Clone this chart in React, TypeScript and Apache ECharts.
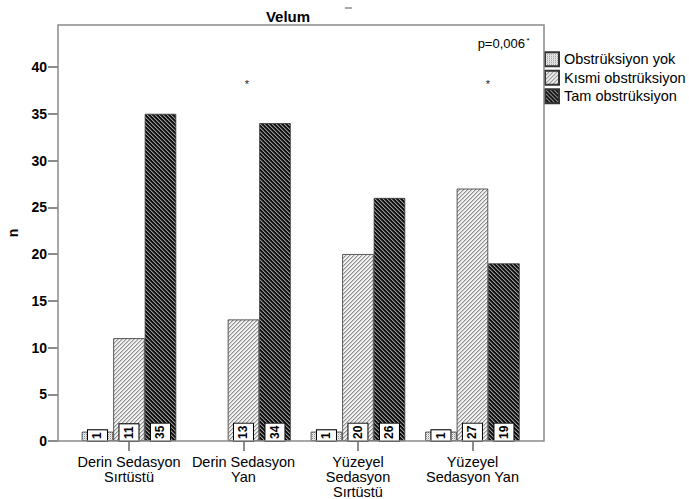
import React, { useEffect, useRef } from "react";
import * as echarts from "echarts";

const categories = [
  "Derin Sedasyon\nSırtüstü",
  "Derin Sedasyon\nYan",
  "Yüzeyel\nSedasyon\nSırtüstü",
  "Yüzeyel\nSedasyon Yan",
];
const seriesNames = ["Obstrüksiyon yok", "Kısmi obstrüksiyon", "Tam obstrüksiyon"];
const yokValues: (number | null)[] = [1, null, 1, 1];
const kismiValues: (number | null)[] = [11, 13, 20, 27];
const tamValues: (number | null)[] = [35, 34, 26, 19];
const yTicks = [0, 5, 10, 15, 20, 25, 30, 35, 40];
const xTicks = [0, 1, 2, 3];
const yMax = 44.5;

const FONT = 'Arial, "Liberation Sans", Helvetica, sans-serif';
const BAR_W = 31.5;

function makePattern(kind: "yok" | "kismi" | "tam") {
  const c = document.createElement("canvas");
  c.width = 4;
  c.height = 4;
  const ctx = c.getContext("2d")!;
  for (let y = 0; y < 4; y++) {
    for (let x = 0; x < 4; x++) {
      let col = "#fff";
      if (kind === "tam") {
        const d = (((x - y) % 4) + 4) % 4;
        col = d === 0 ? "#9a9a9a" : d === 1 ? "#484848" : "#101010";
      } else if (kind === "kismi") {
        const d = (x + y) % 4;
        col = d === 0 ? "#909090" : d === 1 ? "#c8c8c8" : "#f2f2f2";
      } else {
        const d = (x + y) % 2;
        col = d === 0 ? (x % 2 === 0 ? "#8a8a8a" : "#cfcfcf") : "#f4f4f4";
      }
      ctx.fillStyle = col;
      ctx.fillRect(x, y, 1, 1);
    }
  }
  return { image: c, repeat: "repeat", imageWidth: 4, imageHeight: 4 } as any;
}

export default function App() {
  const ref = useRef<HTMLDivElement>(null);
  useEffect(() => {
    if (!ref.current) return;
    const chart = echarts.init(ref.current, undefined, { renderer: "svg" });
    const allValues = [yokValues, kismiValues, tamValues];
    const labelData: any[] = [];
    allValues.forEach((arr, s) =>
      arr.forEach((v, i) => {
        if (v != null) labelData.push([i, v, s]);
      })
    );
    const mk = (name: string, data: (number | null)[], kind: "yok" | "kismi" | "tam") => ({
      type: "bar",
      name,
      data: data.map((v, i) => [i, v == null ? "-" : v]),
      barWidth: BAR_W,
      barGap: "0%",
      itemStyle: { color: makePattern(kind), borderColor: "#333", borderWidth: 0.8 },
    });
    chart.setOption({
      animation: false,
      textStyle: { fontFamily: FONT },
      grid: { left: 58, right: 145, top: 25, bottom: 58, containLabel: false, outerBoundsMode: "none" },
      legend: {
        orient: "vertical",
        left: 544,
        top: 50,
        padding: 0,
        itemGap: 0,
        itemWidth: 14,
        itemHeight: 14,
        icon: "rect",
        textStyle: { fontSize: 14.5, lineHeight: 18.5, color: "#000", fontFamily: FONT },
        data: seriesNames,
      },
      xAxis: {
        type: "value",
        min: -0.62,
        max: 3.625,
        splitLine: { show: false },
        axisLine: { show: false, onZero: false },
        axisTick: { show: true, length: 10, customValues: xTicks, lineStyle: { color: "#666", width: 1.5 } },
        axisLabel: {
          fontSize: 14.5,
          color: "#000",
          lineHeight: 15,
          margin: 13,
          customValues: xTicks,
          formatter: (v: number) => categories[Math.round(v)] ?? "",
        },
      },
      yAxis: {
        type: "value",
        min: 0,
        max: yMax,
        interval: 5,
        name: "n",
        nameLocation: "middle",
        nameRotate: 90,
        nameGap: 38,
        nameTextStyle: { fontSize: 14, fontWeight: "bold", color: "#000" },
        splitLine: { show: false },
        axisLine: { show: false, onZero: false },
        axisTick: { show: true, length: 10, customValues: yTicks, lineStyle: { color: "#666", width: 1.5 } },
        axisLabel: { fontSize: 14, fontWeight: "bold", color: "#000", margin: 11, customValues: yTicks },
      },
      graphic: [
        {
          type: "rect",
          z: 100,
          shape: { x: 58, y: 25, width: 486, height: 416 },
          style: { fill: "none", stroke: "#8a8a8a", lineWidth: 1.5 },
          silent: true,
        },
        {
          type: "text",
          x: 288,
          y: 16,
          style: { text: "Velum", fontSize: 15, fontWeight: "bold", fill: "#000", align: "center", verticalAlign: "middle", fontFamily: FONT },
        },
        {
          type: "line",
          shape: { x1: 345, y1: 8, x2: 352, y2: 8 },
          style: { stroke: "#555", lineWidth: 1 },
        },
        {
          type: "text",
          x: 525,
          y: 43,
          style: { text: "p=0,006", fontSize: 13, fill: "#000", align: "right", verticalAlign: "middle", fontFamily: FONT },
        },
        {
          type: "text",
          x: 528,
          y: 40,
          style: { text: "*", fontSize: 8, fill: "#000", align: "center", verticalAlign: "middle", fontFamily: FONT },
        },
        {
          type: "text",
          x: 247,
          y: 84,
          style: { text: "*", fontSize: 11, fill: "#222", align: "center", verticalAlign: "middle", fontFamily: FONT },
        },
        {
          type: "text",
          x: 488,
          y: 84,
          style: { text: "*", fontSize: 11, fill: "#222", align: "center", verticalAlign: "middle", fontFamily: FONT },
        },
      ],
      series: [
        mk(seriesNames[0], yokValues, "yok"),
        mk(seriesNames[1], kismiValues, "kismi"),
        mk(seriesNames[2], tamValues, "tam"),
        {
          type: "custom",
          z: 5,
          silent: true,
          data: labelData,
          renderItem: (params: any, api: any) => {
            const p = api.coord([api.value(0), 0]);
            const s = api.value(2);
            return {
              type: "text",
              x: p[0] + (s - 1) * BAR_W,
              y: p[1],
              rotation: Math.PI / 2,
              style: {
                text: String(api.value(1)),
                align: "left",
                verticalAlign: "middle",
                fontSize: 12,
                fontWeight: "bold",
                fontFamily: FONT,
                fill: "#000",
                backgroundColor: "#fff",
                borderColor: "#000",
                borderWidth: 1,
                padding: [3, 2],
                lineHeight: 13,
              },
            };
          },
        },
      ],
    });
    return () => chart.dispose();
  }, []);
  return (
    <div
      ref={ref}
      style={{ position: "fixed", left: 0, top: 0, width: 689, height: 499, background: "#fff" }}
    />
  );
}
